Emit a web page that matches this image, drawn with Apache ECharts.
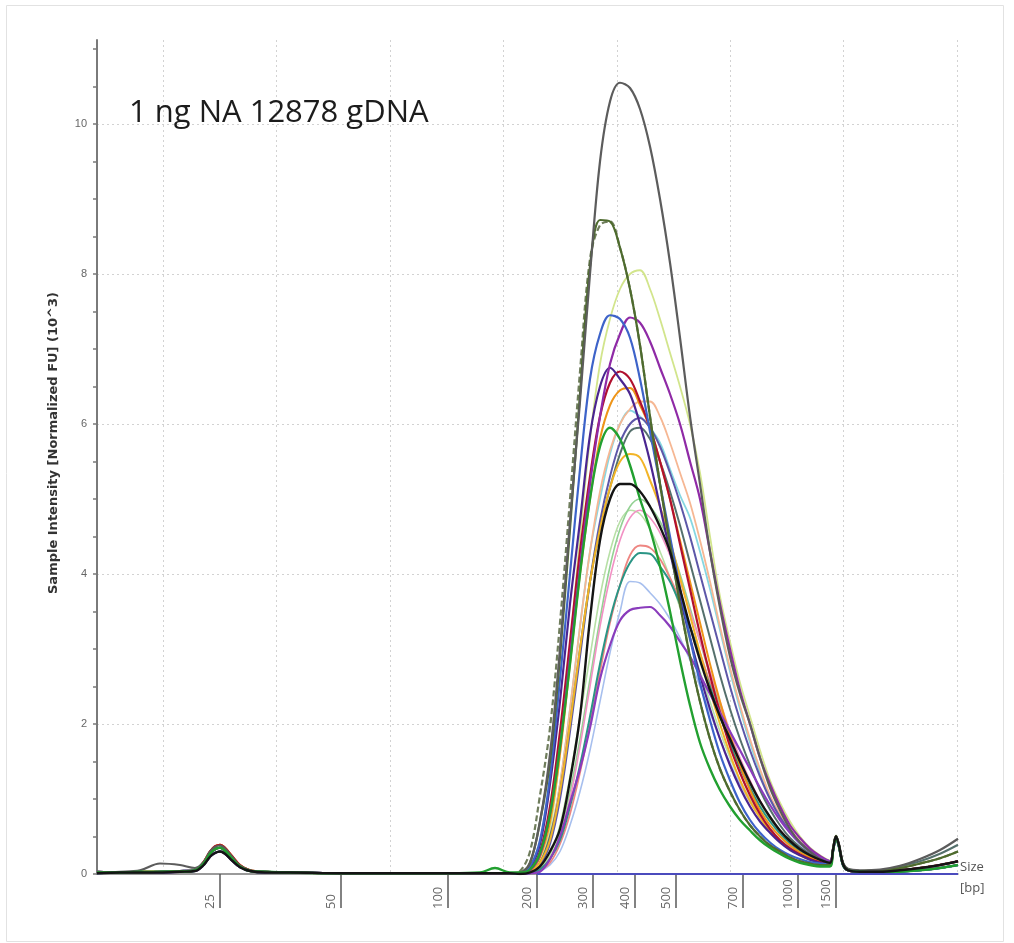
<!DOCTYPE html>
<html>
<head>
<meta charset="utf-8">
<script src="https://cdn.jsdelivr.net/npm/echarts@6/dist/echarts.min.js"></script>
<style>
html,body{margin:0;padding:0;background:#fff;}
#chart{width:1014px;height:943px;}
</style>
</head>
<body>
<div id="chart"></div>
<script>
// ---- Axis data (migration distance units; ladder maps distance -> bp label) ----
const ladderBp  = [25, 50, 100, 200, 300, 400, 500, 700, 1000, 1500];
const ladderPos = [12.0, 24.1, 34.8, 43.7, 49.3, 53.5, 57.6, 64.3, 69.8, 73.6];
const yTickValues  = [0,0.5,1,1.5,2,2.5,3,3.5,4,4.5,5,5.5,6,6.5,7,7.5,8,8.5,9,9.5,10,10.5,11];
const yLabelValues = [0,2,4,6,8,10];
const xGridValues  = [6.3, 17.6, 29.0, 40.3, 51.7, 63.0, 74.3, 85.7];

// ---- Shared sampling positions ----
const xLeft  = [-0.3,2,4,6,8,9.5,10.3,11,11.5,12,12.5,13.2,14,15,16.5,19,24,30,35,38,39.5,41];
const xPeak  = [42,43,44,45,46,47,48,49,50,51,52,53,54,55,56,57,58,59,60,61,62,63,64,65,66,67,68,69,70,71,72,73];
const xRight = [73.3,73.6,73.9,74.3,74.8,76,78,80,82,84,85.8];

// ---- Lower marker (25 bp) traces ----
const lowHi    = [0.02,0.02,0.03,0.03,0.03,0.05,0.15,0.3,0.37,0.39,0.35,0.24,0.12,0.05,0.03,0.02,0.01,0.01,0.01,0.01,0.01,0.01];
const lowMid   = [0.03,0.02,0.02,0.03,0.04,0.05,0.13,0.27,0.33,0.35,0.31,0.21,0.1,0.04,0.03,0.02,0.01,0.01,0.01,0.01,0.01,0.01];
const lowLo    = [0.01,0.02,0.02,0.02,0.03,0.04,0.11,0.23,0.28,0.3,0.27,0.18,0.09,0.04,0.02,0.02,0.01,0.01,0.01,0.01,0.01,0.01];
const lowGray  = [0.02,0.03,0.05,0.14,0.12,0.08,0.15,0.3,0.36,0.38,0.34,0.23,0.11,0.05,0.03,0.02,0.01,0.01,0.01,0.01,0.01,0.01];
const lowGreen = [0.02,0.02,0.03,0.03,0.03,0.05,0.13,0.27,0.33,0.35,0.31,0.21,0.1,0.04,0.03,0.02,0.01,0.01,0.01,0.02,0.08,0.02];

// ---- Upper marker (1500 bp) + tail traces ----
const upHi    = [0.34,0.5,0.4,0.15,0.07,0.05,0.06,0.11,0.2,0.32,0.47];
const upMidHi = [0.33,0.5,0.39,0.14,0.06,0.04,0.05,0.1,0.17,0.27,0.39];
const upMid   = [0.33,0.51,0.38,0.14,0.06,0.04,0.05,0.08,0.14,0.21,0.3];
const upLo    = [0.32,0.5,0.38,0.13,0.05,0.03,0.03,0.05,0.08,0.12,0.17];
const upLoLo  = [0.3,0.48,0.36,0.12,0.05,0.03,0.02,0.03,0.05,0.08,0.12];

// ---- Sample peak traces (values at xPeak), intensity x10^3 ----
const sGray    = [0.02,0.15,0.7,1.6,3.0,4.7,6.3,8.0,9.5,10.3,10.55,10.48,10.2,9.7,9.0,8.15,7.15,6.1,5.2,4.3,3.55,2.9,2.4,2.0,1.55,1.15,0.85,0.6,0.42,0.3,0.2,0.15];
const sDashed  = [0.04,0.3,1.05,1.95,3.35,5.0,6.7,8.2,8.65,8.7,8.35,7.8,7.05,6.1,5.2,4.4,3.6,2.9,2.3,1.8,1.4,1.1,0.85,0.65,0.5,0.38,0.3,0.22,0.17,0.14,0.12,0.12];
const sOlive   = [0.02,0.15,0.7,1.5,2.9,4.6,6.4,8.1,8.72,8.7,8.35,7.8,7.05,6.1,5.2,4.4,3.6,2.9,2.3,1.8,1.4,1.1,0.85,0.65,0.5,0.38,0.3,0.22,0.17,0.14,0.12,0.12];
const sLime    = [0,0.03,0.15,0.6,1.6,3.0,4.5,5.8,6.8,7.4,7.8,8.0,8.05,7.8,7.4,6.95,6.5,6.0,5.35,4.5,3.7,3.1,2.55,2.1,1.65,1.25,0.95,0.7,0.5,0.35,0.25,0.18];
const sBlue    = [0,0.1,0.45,1.3,2.6,4.0,5.4,6.6,7.2,7.45,7.4,7.15,6.6,5.9,5.2,4.5,3.8,3.15,2.55,2.05,1.6,1.25,0.95,0.72,0.55,0.42,0.32,0.25,0.2,0.16,0.14,0.13];
const sMagenta = [0,0.05,0.25,0.8,1.7,2.9,4.1,5.2,6.1,6.8,7.2,7.42,7.35,7.1,6.75,6.4,6.0,5.5,5.0,4.3,3.6,3.0,2.45,2.0,1.55,1.2,0.9,0.65,0.48,0.34,0.24,0.17];
const sIndigo  = [0,0.08,0.4,1.2,2.3,3.6,4.7,5.85,6.5,6.75,6.6,6.4,6.0,5.5,4.9,4.3,3.7,3.15,2.65,2.2,1.8,1.45,1.15,0.9,0.7,0.55,0.42,0.32,0.25,0.19,0.15,0.13];
const sRed     = [0,0.05,0.3,0.9,1.9,3.1,4.3,5.3,6.1,6.55,6.7,6.6,6.3,5.95,5.5,5.0,4.4,3.8,3.2,2.65,2.15,1.7,1.35,1.05,0.8,0.6,0.45,0.34,0.26,0.2,0.16,0.14];
const sOrange  = [0,0.04,0.22,0.7,1.6,2.8,4.0,5.0,5.8,6.25,6.45,6.48,6.25,5.95,5.5,5.0,4.45,3.9,3.35,2.8,2.3,1.85,1.45,1.12,0.85,0.65,0.5,0.38,0.29,0.22,0.17,0.15];
const sSalmon  = [0,0.03,0.15,0.5,1.2,2.2,3.3,4.3,5.1,5.65,6.0,6.2,6.3,6.3,6.1,5.75,5.35,4.95,4.45,3.9,3.3,2.75,2.25,1.8,1.4,1.05,0.8,0.6,0.44,0.32,0.23,0.17];
const sCyan    = [0,0.03,0.15,0.5,1.2,2.2,3.3,4.3,5.0,5.6,6.0,6.18,6.1,5.95,5.75,5.4,5.05,4.75,4.3,3.8,3.25,2.7,2.2,1.75,1.35,1.0,0.75,0.55,0.4,0.29,0.21,0.16];
const sSlate   = [0,0.02,0.12,0.4,1.0,1.9,2.9,3.9,4.7,5.3,5.75,6.0,6.08,5.95,5.7,5.35,4.95,4.5,4.0,3.5,3.0,2.5,2.05,1.65,1.3,1.0,0.76,0.57,0.42,0.31,0.23,0.17];
const sDkSlate = [0,0.03,0.15,0.5,1.1,2.0,3.0,3.9,4.6,5.15,5.6,5.9,5.95,5.8,5.5,5.1,4.65,4.15,3.65,3.15,2.65,2.2,1.8,1.45,1.12,0.86,0.65,0.48,0.36,0.27,0.2,0.16];
const sGreen   = [0.02,0.06,0.28,0.8,1.7,2.8,4.0,5.0,5.7,5.95,5.8,5.45,5.0,4.6,4.1,3.5,2.85,2.25,1.75,1.4,1.12,0.9,0.72,0.58,0.45,0.35,0.27,0.2,0.15,0.12,0.1,0.1];
const sGold    = [0,0.03,0.15,0.45,1.1,2.0,3.0,3.9,4.6,5.15,5.5,5.6,5.55,5.25,4.9,4.45,3.95,3.45,2.95,2.45,2.0,1.6,1.25,0.97,0.75,0.57,0.43,0.33,0.25,0.19,0.15,0.13];
const sBlack   = [0,0.02,0.1,0.3,0.6,1.25,2.1,3.4,4.45,5.0,5.2,5.2,5.1,4.9,4.63,4.3,3.8,3.3,2.85,2.45,2.1,1.8,1.5,1.22,0.97,0.76,0.58,0.44,0.33,0.25,0.19,0.15];
const sLtGreen = [0,0.02,0.07,0.2,0.55,1.1,1.8,2.6,3.4,4.1,4.6,4.9,5.0,4.9,4.7,4.4,4.0,3.55,3.1,2.65,2.25,1.85,1.5,1.2,0.95,0.74,0.57,0.44,0.34,0.26,0.2,0.16];
const sPaleGrn = [0,0.02,0.08,0.25,0.65,1.3,2.1,2.9,3.7,4.3,4.7,4.85,4.8,4.6,4.3,3.95,3.55,3.1,2.7,2.3,1.9,1.55,1.25,1.0,0.78,0.6,0.46,0.36,0.28,0.22,0.17,0.14];
const sPink    = [0,0.02,0.07,0.2,0.5,1.0,1.7,2.5,3.3,3.95,4.45,4.75,4.85,4.75,4.55,4.25,3.9,3.5,3.1,2.7,2.3,1.9,1.55,1.25,0.98,0.76,0.58,0.45,0.34,0.26,0.2,0.16];
const sCoral   = [0,0.01,0.05,0.15,0.4,0.8,1.35,2.0,2.7,3.35,3.85,4.25,4.38,4.35,4.2,3.95,3.65,3.3,2.95,2.55,2.2,1.85,1.5,1.22,0.97,0.76,0.58,0.45,0.34,0.26,0.2,0.16];
const sTeal    = [0,0.01,0.06,0.2,0.45,0.9,1.45,2.1,2.8,3.4,3.85,4.15,4.28,4.27,4.1,3.9,3.6,3.3,2.9,2.5,2.1,1.75,1.42,1.15,0.9,0.7,0.54,0.41,0.31,0.24,0.18,0.15];
const sLtBlue  = [0,0.01,0.04,0.12,0.3,0.65,1.1,1.65,2.3,2.95,3.5,3.9,3.88,3.75,3.6,3.4,3.15,2.85,2.5,2.15,1.8,1.48,1.2,0.96,0.76,0.6,0.46,0.36,0.28,0.22,0.17,0.14];
const sViolet  = [0,0.01,0.03,0.2,0.5,0.95,1.4,1.95,2.6,3.05,3.38,3.52,3.55,3.56,3.45,3.3,3.1,2.9,2.65,2.4,2.15,1.9,1.65,1.4,1.15,0.92,0.72,0.55,0.41,0.3,0.22,0.17];

// blank lane lying on the baseline
const blankX = [43.7, 85.8];
const blankY = [0, 0];

// ---- Series list: data arrays + styling ----
const traces = [
  {peak: sLime,    low: lowLo,    up: upMid,   color: '#d2e58c', width: 1.8},
  {peak: sCyan,    low: lowLo,    up: upLo,    color: '#86d7e2', width: 1.8},
  {peak: sSalmon,  low: lowMid,   up: upLo,    color: '#f6b793', width: 1.8},
  {peak: sPaleGrn, low: lowLo,    up: upLo,    color: '#b7e0a6', width: 1.6},
  {peak: sLtGreen, low: lowLo,    up: upLo,    color: '#93d193', width: 1.6},
  {peak: sLtBlue,  low: lowLo,    up: upLoLo,  color: '#a7bfee', width: 1.6},
  {peak: sPink,    low: lowMid,   up: upLo,    color: '#f291c4', width: 1.6},
  {peak: sCoral,   low: lowMid,   up: upLo,    color: '#ee8682', width: 1.8},
  {peak: sTeal,    low: lowLo,    up: upLoLo,  color: '#2a9585', width: 2},
  {peak: sSlate,   low: lowLo,    up: upLo,    color: '#5d57a8', width: 2},
  {peak: sDkSlate, low: lowLo,    up: upMidHi, color: '#55706c', width: 2},
  {peak: sGold,    low: lowHi,    up: upLo,    color: '#f2b427', width: 2},
  {peak: sOrange,  low: lowHi,    up: upLo,    color: '#ee9418', width: 2},
  {peak: sRed,     low: lowHi,    up: upLo,    color: '#b0102e', width: 2.2},
  {peak: sIndigo,  low: lowMid,   up: upLoLo,  color: '#4a2590', width: 2.2},
  {peak: sMagenta, low: lowMid,   up: upLo,    color: '#8f2aa6', width: 2.2},
  {peak: sViolet,  low: lowLo,    up: upLoLo,  color: '#8a3cbc', width: 2.2},
  {peak: sBlue,    low: lowMid,   up: upLoLo,  color: '#3d63c9', width: 2.2},
  {peak: sDashed,  low: lowMid,   up: upMid,   color: '#6f7d5c', width: 2.2, dash: true},
  {peak: sOlive,   low: lowMid,   up: upMid,   color: '#4e6b2e', width: 2.2},
  {peak: sGray,    low: lowGray,  up: upHi,    color: '#5c5c5c', width: 2.2},
  {peak: sGreen,   low: lowGreen, up: upLoLo,  color: '#22a030', width: 2.4},
  {peak: sBlack,   low: lowLo,    up: upLo,    color: '#141414', width: 2.4}
];

function buildData(t) {
  const d = [];
  xLeft.forEach((x, i) => d.push([x, t.low[i]]));
  xPeak.forEach((x, i) => d.push([x, t.peak[i]]));
  xRight.forEach((x, i) => d.push([x, t.up[i]]));
  return d;
}

const series = traces.map((t, i) => ({
  type: 'line',
  name: 'lane' + (i + 1),
  data: buildData(t),
  xAxisIndex: 0, yAxisIndex: 0,
  showSymbol: false, symbol: 'none',
  smooth: 0.35,
  silent: true,
  lineStyle: {color: t.color, width: t.width, type: t.dash ? [6, 3] : 'solid'},
  z: 3
}));
series.push({
  type: 'line', name: 'blank',
  data: blankX.map((x, i) => [x, blankY[i]]),
  showSymbol: false, symbol: 'none', silent: true,
  lineStyle: {color: '#4b4bbd', width: 2}, z: 4
});

function bpLabel(v) {
  let best = 0, bd = Infinity;
  ladderPos.forEach((p, i) => { const dd = Math.abs(p - v); if (dd < bd) { bd = dd; best = i; } });
  return String(ladderBp[best]);
}

const chart = echarts.init(document.getElementById('chart'), null, {renderer: 'canvas'});
chart.setOption({
  animation: false,
  backgroundColor: '#ffffff',
  grid: {left: 97, right: 56, top: 40, bottom: 69, containLabel: false, outerBoundsMode: 'none'},
  graphic: [
    {type: 'rect', shape: {x: 6.5, y: 5.5, width: 997, height: 936}, style: {fill: 'none', stroke: '#e2e2e2', lineWidth: 1}, z: -1, silent: true},
    {type: 'text', x: 129, y: 113, style: {text: '1 ng NA 12878 gDNA', font: '31px "Open Sans", sans-serif', fill: '#1c1c1c', textVerticalAlign: 'middle', verticalAlign: 'middle'}, z: 10}
  ],
  xAxis: [
    {
      type: 'value', min: -0.3, max: 85.8,
      axisLine: {show: true, onZero: false, lineStyle: {color: '#7a7a7a', width: 1.5}},
      axisTick: {show: true, customValues: ladderPos, length: 34, inside: false, lineStyle: {color: '#5a5a5a', width: 1.5}},
      axisLabel: {show: true, customValues: ladderPos, formatter: bpLabel, rotate: 90, margin: 35,
                  align: 'left', verticalAlign: 'bottom', lineHeight: 20,
                  fontSize: 13, fontFamily: '"Open Sans", sans-serif', color: '#666'},
      splitLine: {show: false},
      name: '{s| }\n{t|Size}\n{t|[bp]}', nameLocation: 'end', nameGap: 2,
      nameTextStyle: {
        fontSize: 13, fontFamily: '"Open Sans", sans-serif', color: '#555', align: 'left', verticalAlign: 'middle',
        rich: {
          s: {fontSize: 4, lineHeight: 7},
          t: {fontSize: 13, lineHeight: 21, fontFamily: '"Open Sans", sans-serif', color: '#555'}
        }
      }
    },
    {
      type: 'value', min: -0.3, max: 85.8, position: 'bottom',
      axisLine: {show: false, onZero: false}, axisLabel: {show: false},
      axisTick: {show: false, customValues: xGridValues},
      splitLine: {show: true, lineStyle: {color: '#d2d2d2', type: [2, 3], width: 1}}
    }
  ],
  yAxis: [
    {
      type: 'value', min: 0, max: 11.12,
      axisLine: {show: true, onZero: false, lineStyle: {color: '#7a7a7a', width: 2}},
      axisTick: {show: true, customValues: yTickValues, length: 4, inside: false, lineStyle: {color: '#7a7a7a', width: 1.5}},
      axisLabel: {show: true, customValues: yLabelValues, margin: 10, fontSize: 11, fontFamily: '"Liberation Sans", Arial, sans-serif', color: '#666'},
      splitLine: {show: false},
      name: 'Sample Intensity [Normalized FU] (10^3)', nameLocation: 'middle', nameGap: 37, nameRotate: 90,
      nameTextStyle: {fontSize: 13, fontWeight: 'bold', fontFamily: '"DejaVu Sans", Verdana, sans-serif', color: '#333', padding: [0, 0, 0, 28]}
    },
    {
      type: 'value', min: 0, max: 11.12,
      axisLine: {show: false, onZero: false}, axisLabel: {show: false},
      axisTick: {show: false, customValues: [2, 4, 6, 8, 10]},
      splitLine: {show: true, lineStyle: {color: '#d2d2d2', type: [2, 3], width: 1}}
    }
  ],
  series: series
});
</script>
</body>
</html>
